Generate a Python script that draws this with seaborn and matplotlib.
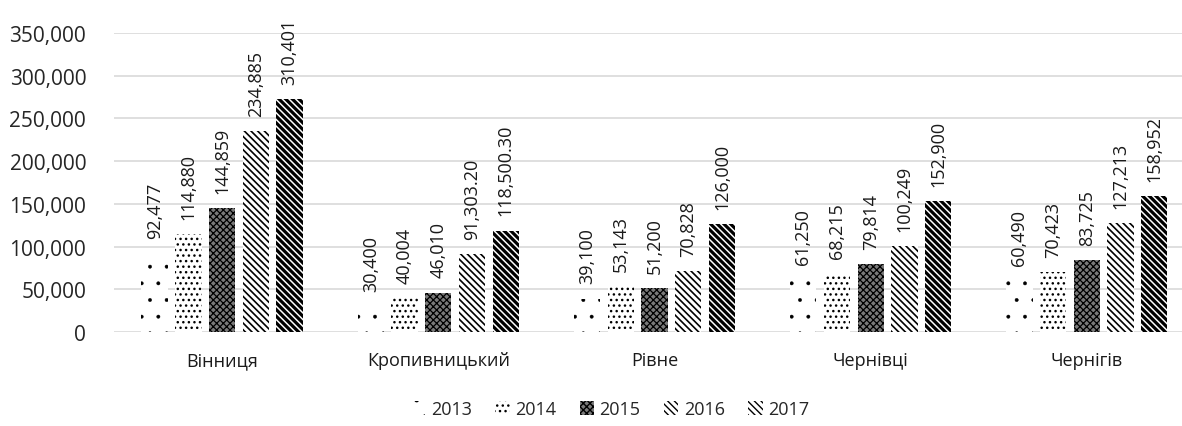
import numpy as np
import pandas as pd
import seaborn as sns
import matplotlib.pyplot as plt
from matplotlib.patches import Patch

cities = ["Вінниця", "Кропивницький", "Рівне", "Чернівці", "Чернігів"]
years = ["2013", "2014", "2015", "2016", "2017"]

# bar heights as drawn in the picture (per year, one value per city)
v2013 = [92477, 30400, 39100, 61250, 60490]
v2014 = [114880, 40004, 53143, 68215, 70423]
v2015 = [144859, 46010, 51200, 79814, 83725]
v2016 = [234885, 91303.20, 70828, 100249, 127213]
v2017 = [272900, 118500.30, 126000, 152900, 158952]

# printed labels
l2013 = ["92,477", "30,400", "39,100", "61,250", "60,490"]
l2014 = ["114,880", "40,004", "53,143", "68,215", "70,423"]
l2015 = ["144,859", "46,010", "51,200", "79,814", "83,725"]
l2016 = ["234,885", "91,303.20", "70,828", "100,249", "127,213"]
l2017 = ["310,401", "118,500.30", "126,000", "152,900", "158,952"]

values = [v2013, v2014, v2015, v2016, v2017]
labels = [l2013, l2014, l2015, l2016, l2017]

rows = []
for y, vals in zip(years, values):
    for c, v in zip(cities, vals):
        rows.append({"city": c, "year": y, "value": v})
df = pd.DataFrame(rows)

sns.set_style("white")
plt.rcParams['font.family'] = ['Open Sans', 'DejaVu Sans']
plt.rcParams['hatch.linewidth'] = 1.0

fig = plt.figure(figsize=(11.82, 4.27), dpi=100)
ax = fig.add_axes([114 / 1182, 94 / 427, 1 - 114 / 1182, 299 / 427])

sns.barplot(data=df, x="city", y="value", hue="year", order=cities, hue_order=years,
            palette=["white"] * 5, width=0.78, gap=0.22, legend=False, ax=ax)

# facecolor, hatch, hatch line width
styles = [
    ("white", ".", 0.3),
    ("white", "...", 1.0),
    ("#7a7a7a", "xxxxx", 0.9),
    ("white", "\\\\\\\\\\", 1.2),
    ("white", "\\\\\\\\\\", 2.3),
]


def style_patch(p, fc, h, lw):
    p.set_facecolor(fc)
    p.set_hatch(h)
    p.set_edgecolor("black")
    p.set_linewidth(0)
    if hasattr(p, "set_hatch_linewidth"):
        p.set_hatch_linewidth(lw)


for cont, (fc, h, lw), labs in zip(ax.containers, styles, labels):
    for bar in cont:
        style_patch(bar, fc, h, lw)
    ax.bar_label(cont, labels=labs, rotation=90, padding=11, fontsize=13, color="#1a1a1a")

ax.set_ylim(0, 350000)
ax.set_xlim(-0.5, 4.44)
ax.set_yticks(np.arange(0, 350001, 50000))
ax.yaxis.set_major_formatter(plt.FuncFormatter(lambda v, p: f"{int(v):,}"))
ax.grid(axis="y", color="#d9d9d9", linewidth=1.2)
ax.set_axisbelow(True)
sns.despine(ax=ax, left=True, bottom=True, top=True, right=True)
ax.set_xlabel("")
ax.set_ylabel("")
ax.tick_params(axis="y", labelsize=15, length=0, pad=20, labelcolor="#262626")
ax.tick_params(axis="x", labelsize=13, length=0, pad=14, labelcolor="#1a1a1a")

handles = []
for fc, h, lw in styles:
    p = Patch(facecolor=fc, hatch=h, edgecolor="black", linewidth=0)
    if hasattr(p, "set_hatch_linewidth"):
        p.set_hatch_linewidth(lw)
    handles.append(p)
fig.legend(handles, years, loc="center", bbox_to_anchor=(610 / 1182, 17 / 427), ncol=5,
           frameon=False, fontsize=13, handlelength=0.8, handleheight=0.8,
           handletextpad=0.3, columnspacing=1.3)

fig.savefig("out.png", dpi=100)
